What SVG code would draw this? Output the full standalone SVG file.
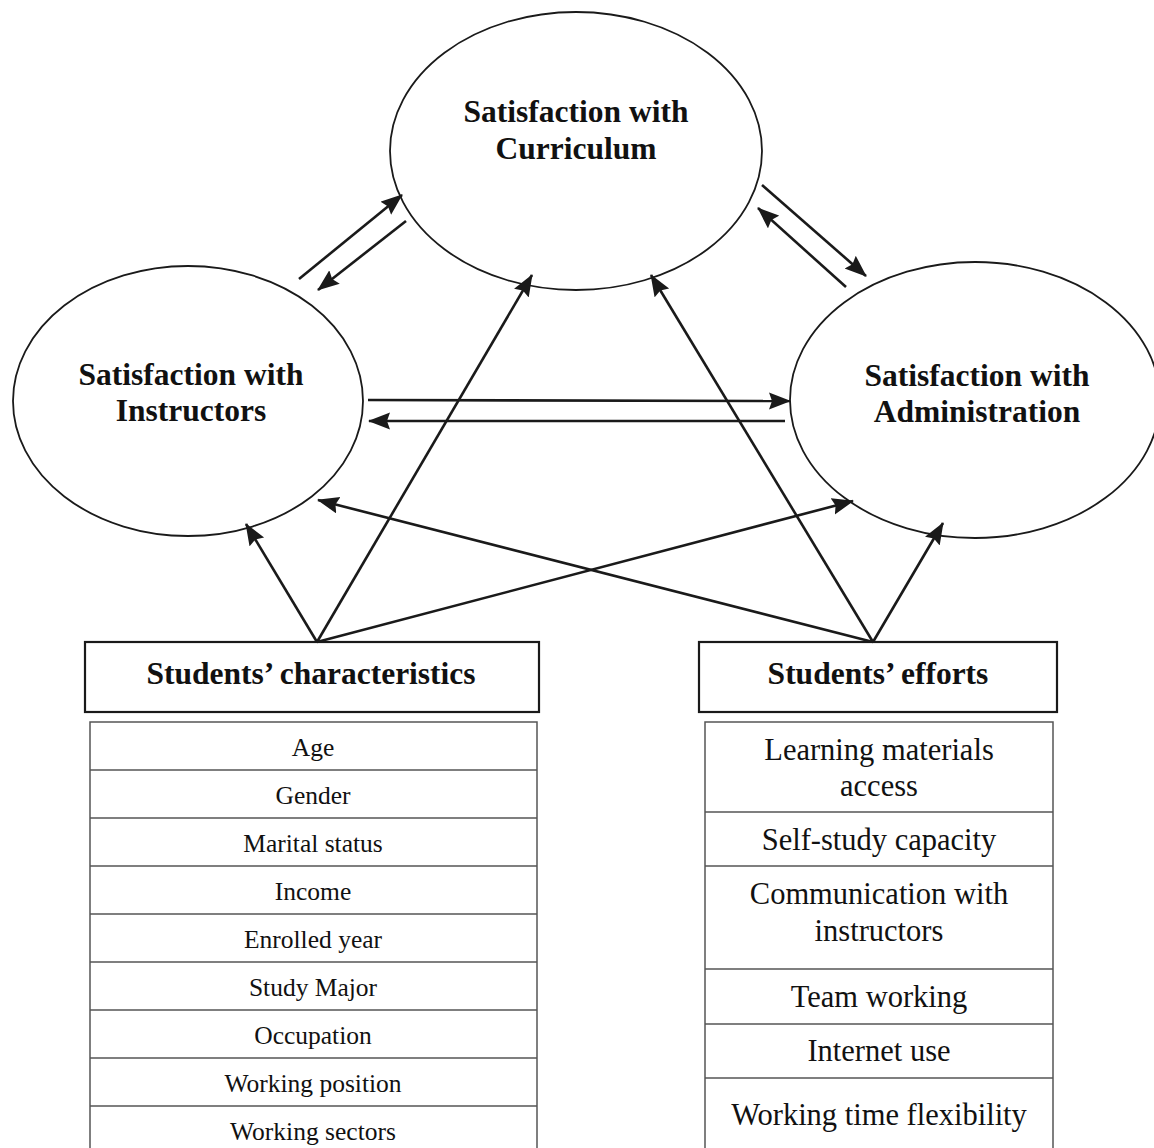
<svg xmlns="http://www.w3.org/2000/svg" width="1154" height="1148" viewBox="0 0 1154 1148">
<style>
.bg{fill:#fff}
.ell{fill:none;stroke:#1a1a1a;stroke-width:1.8}
.box{fill:#fff;stroke:#1a1a1a;stroke-width:2.2}
.tbl{fill:none;stroke:#555;stroke-width:1.5}
.h{font-family:"Liberation Serif","Times New Roman",serif;font-weight:bold;font-size:31.5px;fill:#111;text-anchor:middle}
.t{font-family:"Liberation Serif","Times New Roman",serif;font-size:25.5px;fill:#111;text-anchor:middle}
.t2{font-family:"Liberation Serif","Times New Roman",serif;font-size:30.5px;fill:#111;text-anchor:middle}
.c{stroke:#1a1a1a;stroke-width:2.6;fill:none;marker-end:url(#ah)}
</style>
<defs>
<marker id="ah" markerUnits="userSpaceOnUse" markerWidth="22" markerHeight="18" refX="21" refY="8.5" orient="auto">
<path d="M0,0 L22,8.5 L0,17 L3,8.5 z" fill="#1a1a1a"/>
</marker>
</defs>
<rect class="bg" x="0" y="0" width="1154" height="1148"/>

<g id="curriculum">
<ellipse class="ell" cx="576" cy="151" rx="186" ry="139"/>
<text class="h" x="576" y="122">Satisfaction with</text>
<text class="h" x="576" y="159">Curriculum</text>
</g>

<g id="instructors">
<ellipse class="ell" cx="188" cy="401" rx="175" ry="135"/>
<text class="h" x="191" y="385">Satisfaction with</text>
<text class="h" x="191" y="421">Instructors</text>
</g>

<g id="administration">
<ellipse class="ell" cx="975" cy="400" rx="185" ry="138"/>
<text class="h" x="977" y="386">Satisfaction with</text>
<text class="h" x="977" y="422">Administration</text>
</g>

<g id="characteristics">
<rect class="box" x="85" y="642" width="454" height="70"/>
<text class="h" x="311" y="684">Students’ characteristics</text>
</g>

<g id="characteristics-list">
<rect class="tbl" x="90" y="722" width="447" height="440"/>
<line class="tbl" x1="90" y1="770" x2="537" y2="770"/>
<line class="tbl" x1="90" y1="818" x2="537" y2="818"/>
<line class="tbl" x1="90" y1="866" x2="537" y2="866"/>
<line class="tbl" x1="90" y1="914" x2="537" y2="914"/>
<line class="tbl" x1="90" y1="962" x2="537" y2="962"/>
<line class="tbl" x1="90" y1="1010" x2="537" y2="1010"/>
<line class="tbl" x1="90" y1="1058" x2="537" y2="1058"/>
<line class="tbl" x1="90" y1="1106" x2="537" y2="1106"/>
<text class="t" x="313" y="756">Age</text>
<text class="t" x="313" y="804">Gender</text>
<text class="t" x="313" y="852">Marital status</text>
<text class="t" x="313" y="900">Income</text>
<text class="t" x="313" y="948">Enrolled year</text>
<text class="t" x="313" y="996">Study Major</text>
<text class="t" x="313" y="1044">Occupation</text>
<text class="t" x="313" y="1092">Working position</text>
<text class="t" x="313" y="1140">Working sectors</text>
</g>

<g id="efforts">
<rect class="box" x="699" y="642" width="358" height="70"/>
<text class="h" x="878" y="684">Students’ efforts</text>
</g>

<g id="efforts-list">
<rect class="tbl" x="705" y="722" width="348" height="440"/>
<line class="tbl" x1="705" y1="812" x2="1053" y2="812"/>
<line class="tbl" x1="705" y1="866" x2="1053" y2="866"/>
<line class="tbl" x1="705" y1="969" x2="1053" y2="969"/>
<line class="tbl" x1="705" y1="1024" x2="1053" y2="1024"/>
<line class="tbl" x1="705" y1="1078" x2="1053" y2="1078"/>
<text class="t2" x="879" y="760">Learning materials</text>
<text class="t2" x="879" y="796">access</text>
<text class="t2" x="879" y="850">Self-study capacity</text>
<text class="t2" x="879" y="904">Communication with</text>
<text class="t2" x="879" y="941">instructors</text>
<text class="t2" x="879" y="1007">Team working</text>
<text class="t2" x="879" y="1061">Internet use</text>
<text class="t2" x="879" y="1125">Working time flexibility</text>
</g>

<g id="connectors">
<line class="c" x1="299" y1="279" x2="402" y2="195"/>
<line class="c" x1="406" y1="221" x2="318" y2="290"/>
<line class="c" x1="762" y1="185" x2="866" y2="276"/>
<line class="c" x1="846" y1="287" x2="758" y2="208"/>
<line class="c" x1="368" y1="400" x2="790" y2="401"/>
<line class="c" x1="785" y1="421" x2="369" y2="421"/>
<line class="c" x1="317" y1="642" x2="246" y2="524"/>
<line class="c" x1="317" y1="642" x2="532" y2="275"/>
<line class="c" x1="317" y1="642" x2="853" y2="501"/>
<line class="c" x1="873" y1="642" x2="943" y2="523"/>
<line class="c" x1="873" y1="642" x2="651" y2="275"/>
<line class="c" x1="873" y1="642" x2="318" y2="500"/>
</g>
</svg>
